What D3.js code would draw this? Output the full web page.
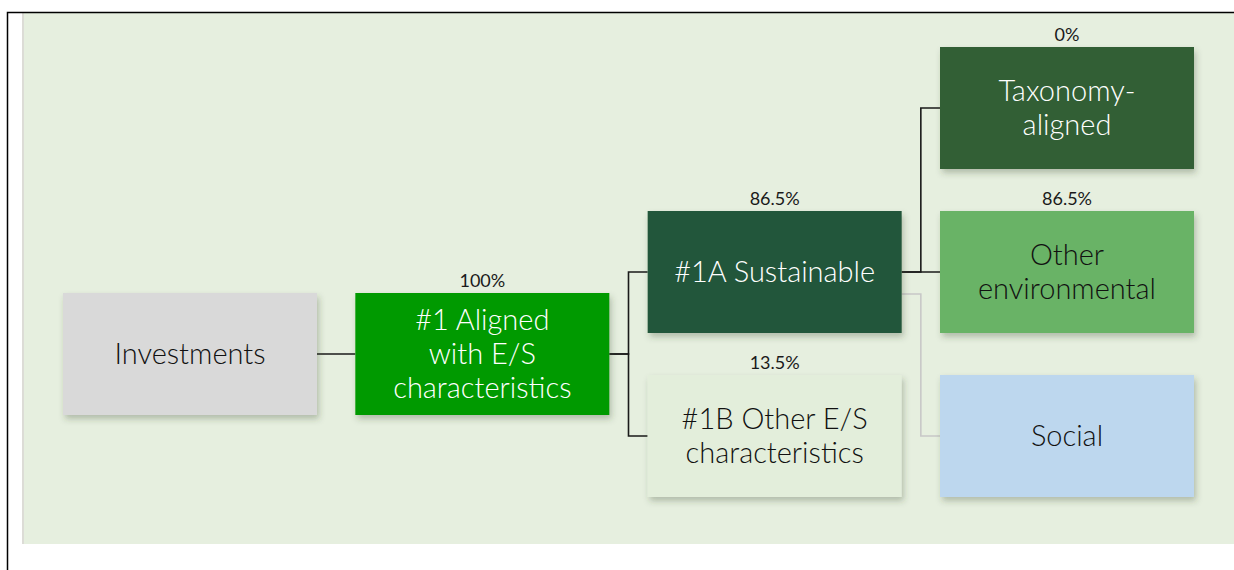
<!DOCTYPE html>
<html>
<head>
<meta charset="utf-8">
<script src="https://cdn.jsdelivr.net/npm/d3@7"></script>
<style>
  html, body { margin: 0; padding: 0; background: #fff; }
  svg { display: block; }
</style>
</head>
<body>
<div id="chart"></div>
<script>
// tree data: one entry per box
const nodeLabels = [
    ["Investments"],
    ["#1 Aligned", "with E/S", "characteristics"],
    ["#1A Sustainable"],
    ["#1B Other E/S", "characteristics"],
    ["Taxonomy-", "aligned"],
    ["Other", "environmental"],
    ["Social"]
];
const nodePercents = ["", "100%", "86.5%", "13.5%", "0%", "86.5%", ""];
const nodeLevel  = [0, 1, 2, 2, 3, 3, 3];
const nodeRow    = [1.5, 1.5, 1, 2, 0, 1, 2];
const nodeParent = [null, 0, 1, 1, 2, 2, 2];
const nodeActive = [true, true, true, true, true, true, false];

// styles, by node index
const boxFill = ["#d9d9d9", "#009a00", "#23573a", "#e3eedb", "#315e35", "#69b366", "#bdd7ee"];
const textFill = ["#111", "#fff", "#fff", "#111", "#fff", "#111", "#111"];

const W = 1234, H = 570;
const boxW = 254, boxH = 122;
const FONT = "Lato, 'Noto Sans', sans-serif";

const svg = d3.select("#chart").append("svg")
    .attr("width", W).attr("height", H);

const defs = svg.append("defs");
const f = defs.append("filter").attr("id", "shadow")
    .attr("x", "-10%").attr("y", "-10%").attr("width", "125%").attr("height", "135%");
f.append("feDropShadow").attr("dx", 2).attr("dy", 4).attr("stdDeviation", 3)
    .attr("flood-color", "#3a4a30").attr("flood-opacity", 0.3);

// frame + panel
svg.append("rect").attr("x", 22).attr("y", 13).attr("width", W - 22).attr("height", 531)
    .attr("fill", "#e6efdf");
svg.append("rect").attr("x", 22).attr("y", 13).attr("width", 2).attr("height", 531)
    .attr("fill", "#dcdcd6");
svg.append("path").attr("d", `M7.5,${H} V12.5 H${W}`)
    .attr("fill", "none").attr("stroke", "#000").attr("stroke-width", 1.5);

const x = d3.scaleLinear().domain([0, 3]).range([63, 940]);
const y = d3.scaleLinear().domain([0, 2]).range([108, 436]);

const nodes = nodeLabels.map((lab, i) => ({
    i: i,
    lines: lab,
    pct: nodePercents[i],
    x0: x(nodeLevel[i]),
    cy: y(nodeRow[i]),
    parent: nodeParent[i],
    active: nodeActive[i]
}));

// connectors (elbow)
const links = svg.append("g");
nodes.filter(d => d.parent != null).forEach(d => {
    const p = nodes[d.parent];
    const sx = p.x0 + boxW;
    const sy = d.active ? p.cy : p.cy + 22;
    const tx = d.x0;
    const mx = (sx + tx) / 2;
    links.append("path")
        .attr("d", `M${sx},${sy} H${mx} V${d.cy} H${tx}`)
        .attr("fill", "none")
        .attr("stroke", d.active ? "#1a1a1a" : "#c8c8c8")
        .attr("stroke-width", 1.6);
});

// boxes
const g = svg.append("g").selectAll("g").data(nodes).join("g");

g.append("rect")
    .attr("x", d => d.x0).attr("y", d => d.cy - boxH / 2)
    .attr("width", boxW).attr("height", boxH)
    .attr("fill", d => boxFill[d.i])
    .attr("filter", "url(#shadow)");

const lineH = 34;
g.each(function(d) {
    const n = d.lines.length;
    const t = d3.select(this).append("text")
        .attr("text-anchor", "middle")
        .attr("font-family", FONT)
        .attr("font-weight", 300)
        .attr("font-size", 29)
        .attr("fill", textFill[d.i]);
    d.lines.forEach((s, k) => {
        t.append("tspan")
            .attr("x", d.x0 + boxW / 2)
            .attr("y", d.cy + (k - (n - 1) / 2) * lineH + 10)
            .text(s);
    });
});

g.filter(d => d.pct !== "").append("text")
    .attr("x", d => d.x0 + boxW / 2)
    .attr("y", d => d.cy - boxH / 2 - 6)
    .attr("text-anchor", "middle")
    .attr("font-family", FONT)
    .attr("font-weight", 400)
    .attr("font-size", 18)
    .attr("fill", "#1a1a1a")
    .text(d => d.pct);
</script>
</body>
</html>
